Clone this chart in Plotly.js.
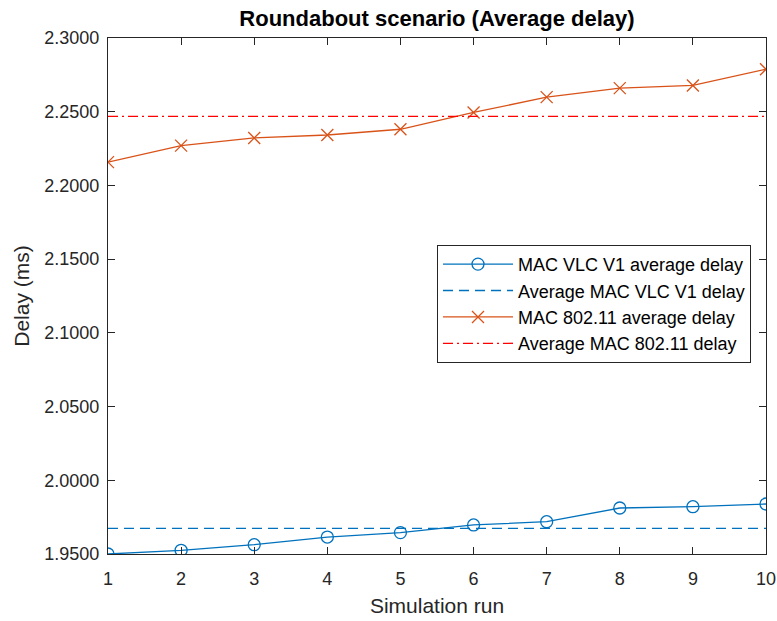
<!DOCTYPE html>
<html>
<head>
<meta charset="utf-8">
<script src="https://cdn.plot.ly/plotly-3.0.1.min.js"></script>
<style>html,body{margin:0;padding:0;background:#fff;}#chart{width:777px;height:621px;}</style>
</head>
<body>
<div id="chart"></div>
<script>
const runs = [1, 2, 3, 4, 5, 6, 7, 8, 9, 10];
const vlcDelay = [1.9500, 1.9525, 1.9563, 1.9615, 1.9645, 1.9697, 1.9719, 1.9812, 1.9821, 1.9839];
const wifiDelay = [2.2158, 2.2270, 2.2322, 2.2342, 2.2381, 2.2495, 2.2599, 2.2660, 2.2678, 2.2788];
const vlcAverage = 1.9674;
const wifiAverage = 2.2469;
const yTicks = [1.95, 2.00, 2.05, 2.10, 2.15, 2.20, 2.25, 2.30];
const seriesNames = ["MAC VLC V1 average delay", "Average MAC VLC V1 delay", "MAC 802.11 average delay", "Average MAC 802.11 delay"];

const font = "Liberation Sans, Arial, Helvetica, sans-serif";
const axisColor = "#262626";

const traces = [
  {x: runs, y: vlcDelay, name: seriesNames[0], mode: "lines+markers",
   line: {color: "#0072BD", width: 1.3},
   marker: {symbol: "circle-open", size: 12, color: "#0072BD", line: {width: 1.3}}},
  {x: runs, y: runs.map(() => vlcAverage), name: seriesNames[1], mode: "lines",
   line: {color: "#0072BD", width: 1.3, dash: "10px,6px"}},
  {x: runs, y: wifiDelay, name: seriesNames[2], mode: "lines+markers",
   line: {color: "#D95319", width: 1.3},
   marker: {symbol: "x-thin-open", size: 12, color: "#D95319", line: {width: 1.3, color: "#D95319"}}},
  {x: runs, y: runs.map(() => wifiAverage), name: seriesNames[3], mode: "lines",
   line: {color: "#FF0000", width: 1.3, dash: "10px,4px,2px,4px"}}
];

const layout = {
  width: 777, height: 621,
  margin: {l: 108, r: 11, t: 38, b: 67},
  paper_bgcolor: "#fff", plot_bgcolor: "#fff",
  font: {family: font, size: 18, color: axisColor},
  title: {text: "<b>Roundabout scenario (Average delay)</b>", font: {family: font, size: 22, color: "#000"},
          x: 0.5, xref: "paper", y: 0.971, yanchor: "middle"},
  xaxis: {range: [1, 10], tickvals: runs, ticks: "inside", ticklen: 7, tickcolor: axisColor,
          showline: true, linecolor: axisColor, linewidth: 1, mirror: "ticks", showgrid: false, zeroline: false,
          tickfont: {size: 18, color: axisColor}, ticklabelstandoff: 8,
          title: {text: "Simulation run", font: {size: 21, color: axisColor}, standoff: 10}},
  yaxis: {range: [1.95, 2.30], tickvals: yTicks, tickformat: ".4f", ticks: "inside", ticklen: 7, tickcolor: axisColor,
          showline: true, linecolor: axisColor, linewidth: 1, mirror: "ticks", showgrid: false, zeroline: false,
          tickfont: {size: 18, color: axisColor}, ticklabelstandoff: 4,
          title: {text: "Delay (ms)", font: {size: 21, color: axisColor}, standoff: 8}},
  showlegend: true,
  legend: {x: 0.5, y: 0.599, xanchor: "left", yanchor: "top", bgcolor: "#fff", bordercolor: axisColor, borderwidth: 1,
           font: {size: 18, color: "#000"}, tracegroupgap: 0, itemwidth: 70}
};

Plotly.newPlot("chart", traces, layout, {displayModeBar: false, staticPlot: true});
</script>
</body>
</html>
